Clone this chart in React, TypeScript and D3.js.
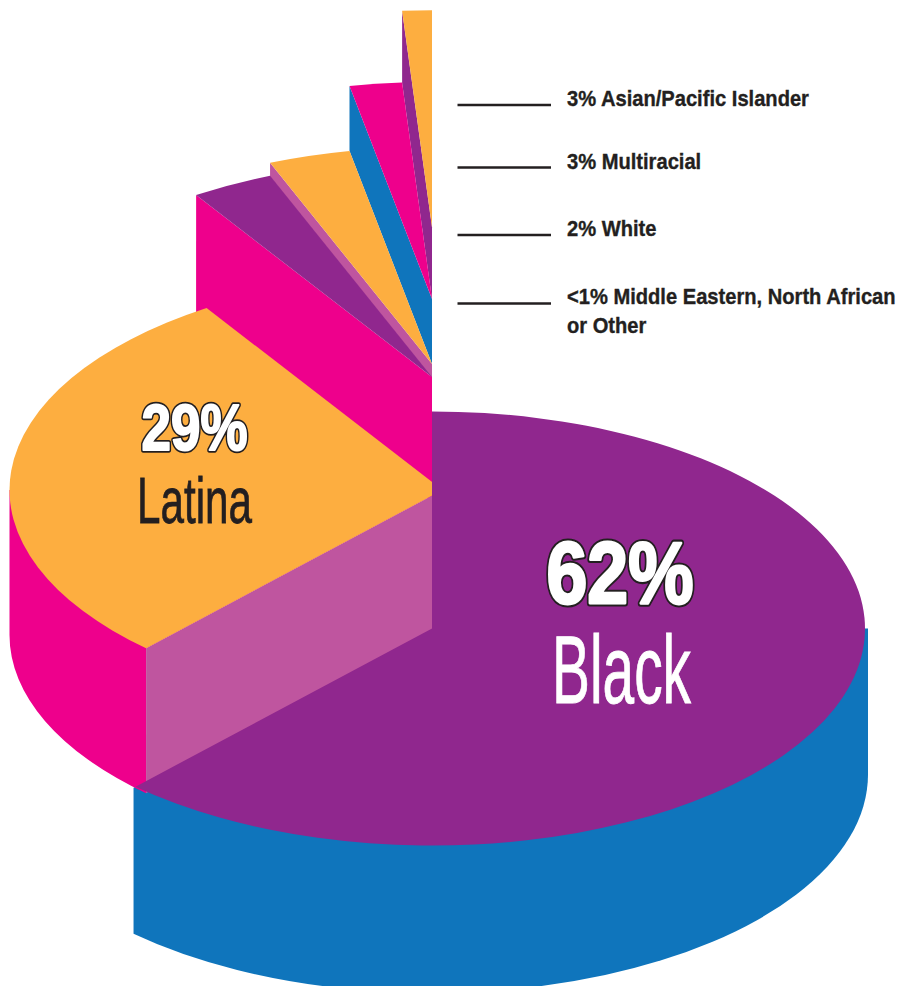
import * as d3 from "d3";

const WIDTH = 899;
const HEIGHT = 986;

// drawn share of each slice (clockwise from 12 o'clock)
const sliceNames = ["Black", "Latina", "Asian/Pacific Islander", "Multiracial", "White", "Middle Eastern, North African or Other"];
const sliceShares = [62, 28.83, 3.07, 3.05, 1.95, 1.1];
const topColors = ["#90278E", "#FDAE40", "#90278E", "#FDAE40", "#EE008C", "#FDAE40"];
const wallColors = ["#BF559F", "#BF559F", "#EE008C", "#BF559F", "#0F75BC", "#90278E"];

// each slice sits on its own step of the staircase
const centerX = [432, 442.5, 432, 432, 432, 432];
const centerY = [628.5, 490, 377, 364, 299, 227.3];
const wallHeights = [146, 145, 125, 14, 65, 72];

const legendLines = [105, 167.5, 235, 303.5];
const legendTexts = [
  { text: "3% Asian/Pacific Islander", y: 106 },
  { text: "3% Multiracial", y: 169.3 },
  { text: "2% White", y: 236 },
  { text: "<1% Middle Eastern, North African", y: 304.3 },
  { text: "or Other", y: 332.8 },
];

const RX = 433;
const RY = 217;
const DARK = "#231F20";
const HEAVY = "'Liberation Sans', sans-serif";
const NARROW = "'Liberation Sans Narrow', 'Liberation Sans', sans-serif";

const arcs = d3
  .pie<number>()
  .sort(null)
  .value((d) => d)(sliceShares);

const sector = d3.arc<d3.PieArcDatum<number>>().innerRadius(0).outerRadius(RX);
const line = d3.line();
const squash = RY / RX;

// the flat cut face along the left edge of a slice
const radialWall = (i: number) => {
  const a = arcs[i].startAngle;
  const x = centerX[i] + RX * Math.sin(a);
  const y = centerY[i] - RY * Math.cos(a);
  const h = wallHeights[i];
  return line([
    [x, y],
    [centerX[i], centerY[i]],
    [centerX[i], centerY[i] + h],
    [x, y + h],
  ]) as string;
};

// curved outer rim, built in the unsquashed space. It runs through the centre
// so no gap can open under the slice that is painted over it
const rim = (r: number, a0: number, a1: number, h: number) => {
  const p = d3.path();
  const H = h / squash;
  const s0 = a0 - Math.PI / 2;
  const s1 = a1 - Math.PI / 2;
  p.moveTo(0, 0);
  p.lineTo(r * Math.cos(s0), r * Math.sin(s0));
  p.arc(0, H, r, s0, s1);
  p.lineTo(r * Math.cos(s1), r * Math.sin(s1));
  p.closePath();
  return p.toString();
};

const Slice = ({ i }: { i: number }) => (
  <path
    d={sector(arcs[i]) as string}
    fill={topColors[i]}
    transform={`translate(${centerX[i]},${centerY[i]}) scale(1,${squash})`}
  />
);

// big numbers: dark outline underneath, fattened white glyph on top
const BigNumber = (props: { label: string; x: number; y: number; size: number; w: number; outline: number; fat: number }) => {
  const { label, x, y, size, w, outline, fat } = props;
  const base = { x, y, fontSize: size, textLength: w, lengthAdjust: "spacingAndGlyphs", fontFamily: HEAVY, fontWeight: "bold" };
  return (
    <g strokeLinejoin="round">
      <text {...base} fill={DARK} stroke={DARK} strokeWidth={outline}>
        {label}
      </text>
      <text {...base} fill="#fff" stroke="#fff" strokeWidth={fat}>
        {label}
      </text>
    </g>
  );
};

export default function App() {
  return (
    <svg width={WIDTH} height={HEIGHT} style={{ position: "absolute", left: 0, top: 0, background: "#fff" }}>
      {/* small slices, top step first */}
      {[5, 4, 3, 2].map((i) => (
        <g key={sliceNames[i]}>
          <path d={radialWall(i)} fill={wallColors[i]} />
          <Slice i={i} />
        </g>
      ))}

      {/* blue rim of the big slice */}
      <path
        d={rim(436, Math.PI / 2, arcs[0].endAngle, wallHeights[0])}
        fill="#0F75BC"
        transform={`translate(432,${centerY[0]}) scale(1,${squash})`}
      />

      {/* Latina step */}
      <path
        d={rim(RX, arcs[1].startAngle, (3 * Math.PI) / 2, wallHeights[1])}
        fill="#EE008C"
        transform={`translate(${centerX[1]},${centerY[1]}) scale(1,${squash})`}
      />
      <path d={radialWall(1)} fill={wallColors[1]} />
      <Slice i={1} />

      {/* Black on top of everything */}
      <Slice i={0} />

      <BigNumber label="62%" x={546.5} y={603} size={88} w={147} outline={7} fat={2.8} />
      <BigNumber label="29%" x={141.5} y={449.5} size={64} w={106} outline={5.5} fat={2} />

      <g fontFamily={NARROW}>
        <text x={552} y={703} fontSize={96} textLength={139} lengthAdjust="spacingAndGlyphs" fill="#fff" stroke="#fff" strokeWidth={0.9}>
          Black
        </text>
        <text x={137} y={522.7} fontSize={64} textLength={115} lengthAdjust="spacingAndGlyphs" fill={DARK} stroke={DARK} strokeWidth={0.8}>
          Latina
        </text>
      </g>

      {legendLines.map((y) => (
        <line key={y} x1={457.5} x2={551} y1={y} y2={y} stroke={DARK} strokeWidth={2.6} />
      ))}
      <g fontFamily={HEAVY} fontWeight="bold" fontSize={22} fill={DARK} stroke={DARK} strokeWidth={0.35}>
        {legendTexts.map((d) => (
          <text key={d.text} transform={`translate(567,${d.y}) scale(0.915,1)`}>
            {d.text}
          </text>
        ))}
      </g>
    </svg>
  );
}
